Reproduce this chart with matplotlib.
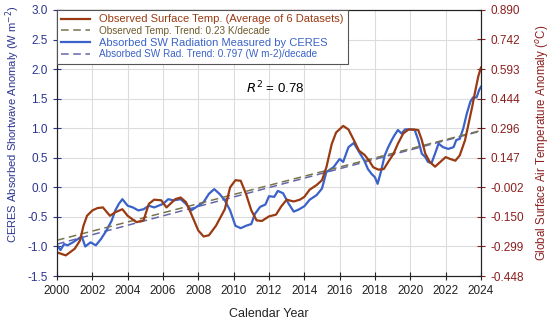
import numpy as np
import matplotlib
matplotlib.use("Agg")
from matplotlib import pyplot as plt

plt.rcParams['font.family'] = ['Liberation Sans', 'DejaVu Sans']

# Observed surface temperature anomaly (deg C, average of 6 datasets)
temp_years = [2000.0, 2000.5, 2001.0, 2001.3, 2001.5, 2001.7, 2002.0, 2002.3, 2002.6, 2003.0,
              2003.3, 2003.7, 2004.0, 2004.5, 2004.9, 2005.2, 2005.5, 2005.9, 2006.2, 2006.7,
              2007.0, 2007.3, 2007.6, 2008.0, 2008.3, 2008.6, 2009.0, 2009.5, 2009.8, 2010.1,
              2010.4, 2010.7, 2011.0, 2011.3, 2011.6, 2012.0, 2012.4, 2012.7, 2013.0, 2013.4,
              2013.75, 2014.0, 2014.3, 2014.7, 2015.0, 2015.25, 2015.55, 2015.8, 2016.2, 2016.5,
              2016.8, 2017.1, 2017.4, 2017.65, 2017.9, 2018.2, 2018.5, 2018.75, 2019.05, 2019.3,
              2019.6, 2019.9, 2020.2, 2020.45, 2020.65, 2020.85, 2021.1, 2021.4, 2021.7, 2022.0,
              2022.25, 2022.55, 2022.8, 2023.1, 2023.3, 2023.5, 2023.65, 2023.85, 2024.0]
temp_anom = [-0.329, -0.344, -0.311, -0.270, -0.195, -0.145, -0.118, -0.106, -0.103, -0.145,
             -0.127, -0.112, -0.145, -0.177, -0.168, -0.085, -0.064, -0.067, -0.103, -0.061,
             -0.053, -0.076, -0.136, -0.219, -0.249, -0.243, -0.195, -0.112, -0.002, 0.034,
             0.031, -0.035, -0.118, -0.168, -0.171, -0.148, -0.139, -0.097, -0.064, -0.073,
             -0.064, -0.050, -0.014, 0.010, 0.034, 0.099, 0.215, 0.274, 0.307, 0.289,
             0.236, 0.182, 0.162, 0.135, 0.099, 0.087, 0.090, 0.126, 0.167, 0.218,
             0.269, 0.289, 0.289, 0.286, 0.236, 0.167, 0.126, 0.102, 0.126, 0.150,
             0.141, 0.132, 0.159, 0.236, 0.319, 0.402, 0.471, 0.557, 0.600]

# CERES absorbed shortwave anomaly (W m-2)
sw_years = [2000.0, 2000.2, 2000.4, 2000.6, 2000.9, 2001.2, 2001.4, 2001.6, 2001.9, 2002.2,
            2002.5, 2002.8, 2003.1, 2003.3, 2003.5, 2003.7, 2004.0, 2004.3, 2004.6, 2004.9,
            2005.2, 2005.5, 2006.0, 2006.3, 2006.6, 2007.0, 2007.3, 2007.6, 2008.0, 2008.3,
            2008.6, 2008.9, 2009.2, 2009.5, 2009.8, 2010.1, 2010.4, 2010.7, 2011.0, 2011.2,
            2011.5, 2011.8, 2012.0, 2012.3, 2012.5, 2012.8, 2013.1, 2013.4, 2013.65, 2014.0,
            2014.3, 2014.7, 2015.0, 2015.25, 2015.65, 2016.0, 2016.2, 2016.5, 2016.8, 2017.1,
            2017.4, 2017.6, 2017.8, 2018.0, 2018.15, 2018.35, 2018.55, 2018.75, 2018.95, 2019.1,
            2019.3, 2019.5, 2019.7, 2020.0, 2020.25, 2020.45, 2020.65, 2020.85, 2021.0, 2021.2,
            2021.4, 2021.6, 2021.85, 2022.15, 2022.45, 2022.6, 2022.8, 2023.0, 2023.2, 2023.4,
            2023.55, 2023.75, 2023.9, 2024.0]
sw_anom = [-0.98, -1.06, -0.96, -0.98, -0.93, -0.87, -0.83, -1.00, -0.93, -0.98,
           -0.87, -0.73, -0.56, -0.39, -0.28, -0.20, -0.31, -0.34, -0.39, -0.37,
           -0.31, -0.34, -0.28, -0.20, -0.22, -0.20, -0.28, -0.39, -0.31, -0.25,
           -0.11, -0.03, -0.11, -0.22, -0.39, -0.65, -0.69, -0.65, -0.62, -0.45,
           -0.33, -0.29, -0.15, -0.16, -0.06, -0.10, -0.27, -0.41, -0.38, -0.32,
           -0.21, -0.13, -0.02, 0.26, 0.34, 0.48, 0.43, 0.68, 0.75, 0.60,
           0.45, 0.31, 0.23, 0.17, 0.06, 0.28, 0.54, 0.68, 0.80, 0.88,
           0.97, 0.91, 0.98, 0.98, 0.97, 0.80, 0.57, 0.51, 0.43, 0.41,
           0.57, 0.74, 0.68, 0.65, 0.68, 0.80, 0.82, 1.00, 1.25, 1.45,
           1.52, 1.52, 1.65, 1.70]

# trends (slope per year, value at 2000)
temp_trend_slope = 0.023
temp_trend_2000 = -0.268
sw_trend_slope = 0.0797
sw_trend_2000 = -0.96

left_ticks = [-1.5, -1.0, -0.5, 0.0, 0.5, 1.0, 1.5, 2.0, 2.5, 3.0]
right_ticks = [-0.448, -0.299, -0.150, -0.002, 0.147, 0.296, 0.444, 0.593, 0.742, 0.890]
year_ticks = list(range(2000, 2025, 2))

red = '#9a3a12'
blue = '#3a62c8'
navy = '#2c3490'
darkred = '#8b1f1f'

fig = plt.figure(figsize=(5.5, 3.21), dpi=100)
ax = fig.add_axes([0.1036, 0.140, 0.7709, 0.829])
ax2 = ax.twinx()

trend_x = np.array([2000, 2024])
l4, = ax.plot(trend_x, sw_trend_2000 + sw_trend_slope * (trend_x - 2000),
              color='#6466aa', lw=1.1, dashes=(5, 3))
l2, = ax2.plot(trend_x, temp_trend_2000 + temp_trend_slope * (trend_x - 2000),
               color='#77744e', lw=1.1, dashes=(5, 3))
l3, = ax.plot(sw_years, sw_anom, color=blue, lw=1.6)
l1, = ax2.plot(temp_years, temp_anom, color=red, lw=1.6)

ax.set_xlim(2000, 2024)
ax.set_ylim(-1.5, 3.0)
ax2.set_ylim(-0.448, 0.890)
ax.set_xticks(year_ticks)
ax.set_yticks(left_ticks)
ax.set_yticklabels(['%.1f' % t for t in left_ticks])
ax2.set_yticks(right_ticks)
ax2.set_yticklabels(['%.3f' % t for t in right_ticks])
ax.grid(True, color='#dcdcdc', lw=0.8)
ax.set_axisbelow(True)

ax.tick_params(axis='x', direction='inout', length=6, labelsize=8.5, colors='#222222')
ax.tick_params(axis='y', direction='inout', length=6, labelsize=8.5, colors=navy)
ax2.tick_params(axis='y', direction='inout', length=6, labelsize=8.5, colors=darkred)
for a in (ax, ax2):
    for s in a.spines.values():
        s.set_color('#222222')

ax.set_xlabel('Calendar Year', fontsize=9, color='#222222', labelpad=8)
ax.set_ylabel('CERES Absorbed Shortwave Anomaly (W m$^{-2}$)', fontsize=8, color=navy)
ax.yaxis.set_label_coords(-0.082, 0.57)
ax2.set_ylabel('Global Surface Air Temperature Anomaly ($^{o}$C)', fontsize=8.3, color=darkred)
ax2.yaxis.set_label_coords(1.124, 0.5)

ax.text(2010.7, 1.68, '$R^2$ = 0.78', fontsize=9.5, color='black', va='center')

labels = ['Observed Surface Temp. (Average of 6 Datasets)',
          'Observed Temp. Trend: 0.23 K/decade',
          'Absorbed SW Radiation Measured by CERES',
          'Absorbed SW Rad. Trend: 0.797 (W m-2)/decade']
leg = ax2.legend([l1, l2, l3, l4], labels, loc='upper left', borderaxespad=0,
                 fancybox=False, edgecolor='#555555', framealpha=1, fontsize=8,
                 handlelength=2.6, labelspacing=0.15, borderpad=0.4,
                 labelcolor=[red, '#6e5a2c', blue, blue])
leg.get_frame().set_linewidth(0.8)
for i, t in enumerate(leg.get_texts()):
    if i in (1, 3):
        t.set_fontsize(7.2)

fig.savefig('out.png', dpi=100)
